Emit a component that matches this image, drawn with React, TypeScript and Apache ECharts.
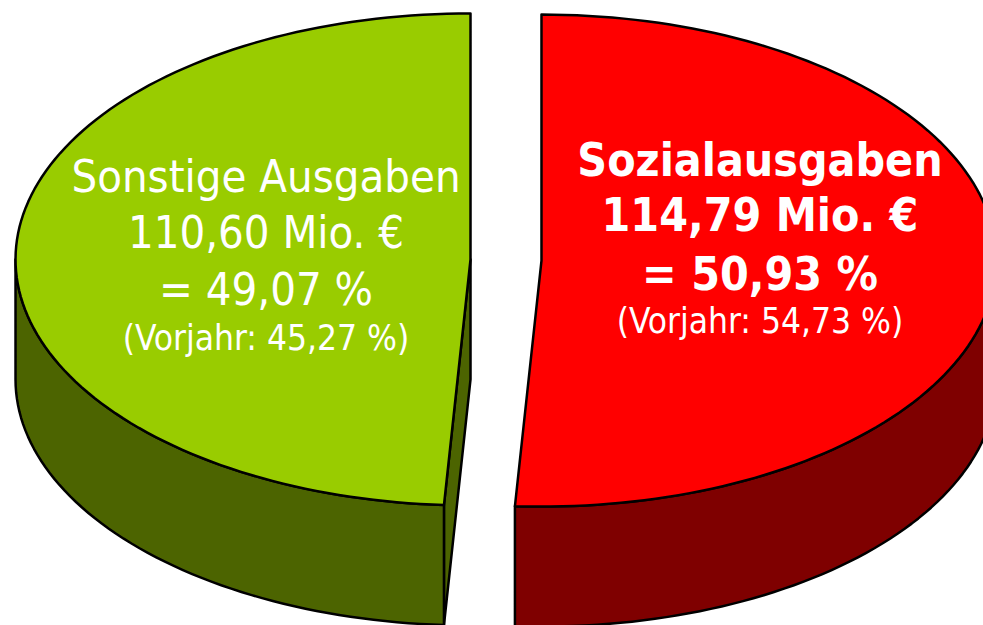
import React, { useEffect, useRef } from 'react';
import * as echarts from 'echarts';

// ---- data ----
const categories = ['Sozialausgaben', 'Sonstige Ausgaben'];
const values = [114.79, 110.6]; // Mio. €
const previousYearPercent = [54.73, 45.27];
const unit = 'Mio. €';

// ---- styles ----
const topColors = ['#FF0000', '#99CC00'];
const sideColors = ['#7F0000', '#4C6400'];
const FONT = '"DejaVu Sans Condensed", "DejaVu Sans", sans-serif';

// ---- layout (pixels) ----
const layout = { cx: 506, cy: 260, rx: 455, ry: 246, depth: 120, explode: 35.5, startAngle: 90 };
// per-slice label placement: horizontal offset from the slice centre and line centres relative to cy
const labelLayout = [
  { dx: 218.5, bold: true, big: 46, small: 35, lines: [-100, -45, 14, 61] },
  { dx: -204.5, bold: false, big: 45, small: 35, lines: [-83.5, -27.5, 29.5, 78] },
];

const fmt = (n: number) => n.toFixed(2).replace('.', ',');

export default function App() {
  const ref = useRef<HTMLDivElement>(null);

  useEffect(() => {
    if (!ref.current) return;
    const chart = echarts.init(ref.current, undefined, { renderer: 'svg' });
    const total = values.reduce((a, b) => a + b, 0);
    const rad = (d: number) => (d * Math.PI) / 180;
    const { rx, ry, depth } = layout;
    const k = ry / rx;

    const renderItem = (params: any, api: any) => {
      const i = params.dataIndex;
      const v = api.value(0) as number;
      const before = values.slice(0, i).reduce((a, b) => a + b, 0);
      const s = layout.startAngle - (before / total) * 360;
      const e = s - (v / total) * 360;
      const m = (s + e) / 2;
      const cx = layout.cx + layout.explode * Math.cos(rad(m));
      const cy = layout.cy - layout.explode * Math.sin(rad(m)) * k;
      const P = (a: number, dz = 0) => [cx + rx * Math.cos(rad(a)), cy - ry * Math.sin(rad(a)) + dz];
      const arc = (a0: number, a1: number, dz: number) => {
        const n = Math.max(2, Math.ceil(Math.abs(a1 - a0) / 1.5));
        const pts: number[][] = [];
        for (let j = 0; j <= n; j++) pts.push(P(a0 + ((a1 - a0) * j) / n, dz));
        return pts;
      };
      const stroke = { stroke: '#000', lineWidth: 2.5, lineJoin: 'round' };
      const children: any[] = [];

      // radial cut faces (visible when outward normal points toward viewer)
      const faces: [number, number][] = [
        [s, s + 90],
        [e, e - 90],
      ];
      faces.forEach(([a, nrm]) => {
        if (Math.sin(rad(nrm)) < -1e-6) {
          const r0 = P(a);
          const r1 = P(a, depth);
          children.push({
            type: 'polygon',
            shape: { points: [[cx, cy], r0, r1, [cx, cy + depth]] },
            style: { fill: sideColors[i], ...stroke },
          });
        }
      });

      // outer wall (front half only)
      for (let kk = -2; kk <= 1; kk++) {
        const lo = Math.max(e, kk * 360 - 180);
        const hi = Math.min(s, kk * 360);
        if (hi > lo) {
          const pts = [...arc(lo, hi, 0), ...arc(hi, lo, depth)];
          children.push({ type: 'polygon', shape: { points: pts }, style: { fill: sideColors[i], ...stroke } });
        }
      }

      // top face
      children.push({
        type: 'polygon',
        shape: { points: [[cx, cy], ...arc(e, s, 0)] },
        style: { fill: topColors[i], ...stroke },
      });

      // labels
      const L = labelLayout[i];
      const pct = (v / total) * 100;
      const lines = [
        { t: categories[i], size: L.big, w: L.bold ? 'bold' : 'normal' },
        { t: `${fmt(v)} ${unit}`, size: L.big, w: L.bold ? 'bold' : 'normal' },
        { t: `= ${fmt(pct)} %`, size: L.big, w: L.bold ? 'bold' : 'normal' },
        { t: `(Vorjahr: ${fmt(previousYearPercent[i])} %)`, size: L.small, w: 'normal' },
      ];
      lines.forEach((ln, j) => {
        children.push({
          type: 'text',
          x: cx + L.dx,
          y: layout.cy + L.lines[j],
          style: {
            text: ln.t,
            fill: '#FFFFFF',
            fontSize: ln.size,
            fontWeight: ln.w,
            fontFamily: FONT,
            align: 'center',
            verticalAlign: 'middle',
          },
        });
      });

      return { type: 'group', children };
    };

    chart.setOption({
      animation: false,
      backgroundColor: '#FFFFFF',
      series: [
        {
          type: 'custom',
          coordinateSystem: 'none',
          silent: true,
          renderItem,
          data: values.map((v, i) => ({ name: categories[i], value: [v] })),
        },
      ],
    });
    return () => chart.dispose();
  }, []);

  return <div ref={ref} style={{ position: 'absolute', left: 0, top: 0, width: 983, height: 625 }} />;
}
